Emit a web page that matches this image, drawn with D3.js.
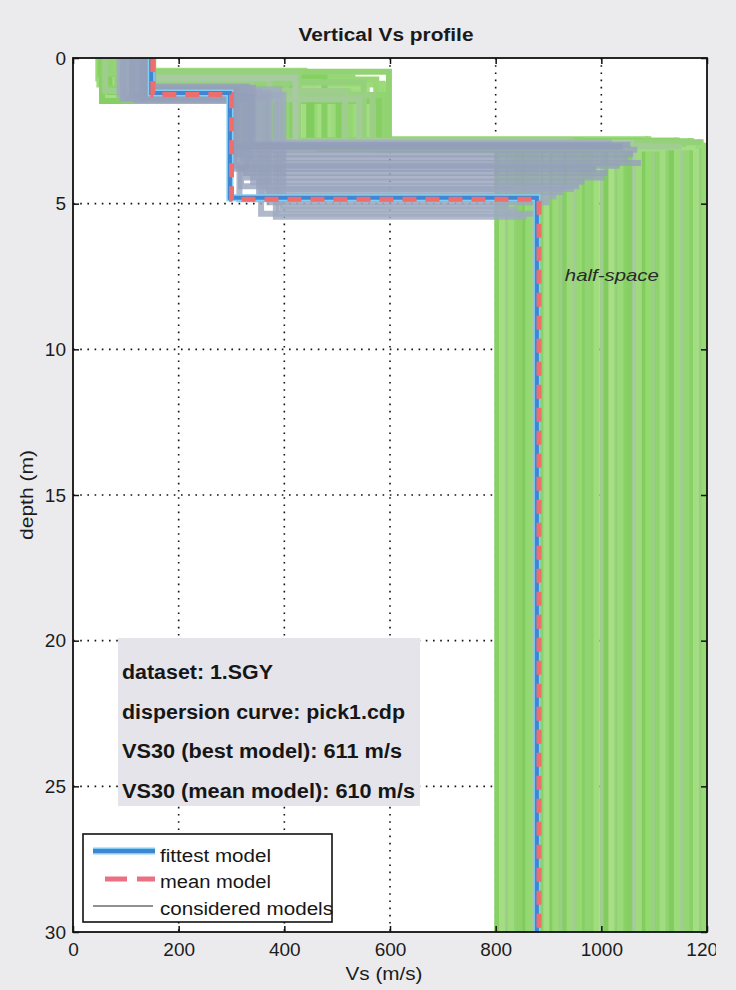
<!DOCTYPE html>
<html>
<head>
<meta charset="utf-8">
<script src="https://cdn.jsdelivr.net/npm/d3@7/dist/d3.min.js"></script>
<style>
  html, body { margin: 0; padding: 0; background: #ebebee; }
  svg { display: block; font-family: "Liberation Sans", Arial, Helvetica, sans-serif; }
</style>
</head>
<body>
<svg id="chart" width="736" height="990"></svg>
<script>
// ---- data ----
const depthTicks = [0, 5, 10, 15, 20, 25, 30];
const vsTicks = [0, 200, 400, 600, 800, 1000, 1200];

// best-fitting and mean 3-layer models: Vs of each layer, depth of each interface
const fittestVs = [148, 297, 878];
const fittestInterfaces = [1.2, 4.8];
const meanVs = [151, 300, 882];
const meanInterfaces = [1.25, 4.85];

// considered models (layer 1, layer 2, half-space), interface depths and misfit
const modelVs1 = [52, 118, 87, 140, 64, 101, 133, 75, 149, 92,
  58, 124, 110, 81, 146, 69, 137, 97, 48, 128,
  114, 85, 143, 61, 106, 131, 72, 152, 95, 55,
  121, 88, 139, 67, 103, 126, 78, 147, 99, 50,
  116, 84, 135, 63, 109, 142,
  142, 120, 150, 98, 133, 110, 146, 125, 88, 138, 104,
  151, 116, 129, 94, 136, 112, 148, 121, 102, 131, 144];
const modelZ1 = [0.55, 1.10, 0.82, 1.38, 0.47, 0.95, 1.22, 0.66, 1.45, 0.74,
  1.05, 0.58, 1.31, 0.88, 0.51, 1.17, 0.99, 1.42, 0.70, 0.62,
  1.27, 0.93, 0.44, 1.13, 0.79, 1.35, 0.53, 1.02, 0.85, 1.48,
  0.68, 1.20, 0.96, 0.49, 1.29, 0.76, 1.08, 0.60, 1.40, 0.91,
  0.72, 1.15, 0.57, 1.33, 0.83, 1.24,
  1.22, 1.35, 1.05, 1.42, 1.15, 1.30, 0.98, 1.45, 1.26, 1.10, 1.38,
  1.18, 1.33, 1.02, 1.40, 1.12, 1.28, 1.08, 1.44, 1.20, 1.36, 1.25];
const modelVs2 = [412, 556, 338, 487, 598, 365, 451, 529, 307, 574,
  396, 468, 342, 585, 427, 503, 359, 542, 318, 476,
  590, 381, 438, 515, 330, 562, 404, 493, 350, 579,
  421, 536, 312, 459, 567, 389, 509, 326, 447, 594,
  372, 521, 335, 482, 550, 399,
  302, 318, 335, 356, 310, 372, 329, 345, 398, 306, 364,
  322, 384, 341, 314, 352, 327, 390, 305, 368, 338, 315];
const modelZ2 = [2.91, 3.02, 2.85, 3.10, 2.95, 2.97, 2.88, 3.04, 2.93, 3.13,
  2.84, 3.12, 2.98, 2.89, 3.07, 2.86, 3.03, 2.84, 2.94, 2.83,
  3.15, 2.92, 2.91, 3.00, 2.87, 3.05, 2.96, 2.85, 3.08, 3.01,
  2.90, 3.09, 2.86, 2.79, 2.99, 2.88, 3.11, 2.93, 3.00, 2.83,
  3.04, 2.95, 2.86, 3.06, 2.89, 3.01,
  3.05, 4.40, 3.60, 5.35, 3.30, 4.95, 4.10, 2.90, 5.10, 3.80, 4.60,
  3.45, 5.45, 4.25, 3.15, 4.75, 3.95, 5.20, 3.70, 4.50, 2.98, 4.85];
const modelVs3 = [803, 812, 818, 829, 836, 845, 851, 862, 870, 877,
  889, 896, 905, 913, 921, 932, 940, 947, 958, 966,
  974, 983, 991, 1002, 1010, 1019, 1027, 1036, 1045, 1053,
  1062, 1071, 1080, 1089, 1098, 1107, 1116, 1125, 1134, 1143,
  1152, 1161, 1170, 1179, 1188, 1196,
  1040, 958, 1075, 884, 1060, 902, 1006, 1020, 824, 990, 927,
  1050, 858, 968, 1068, 915, 1012, 842, 1035, 948, 1055, 872];
const modelMisfit = [0.081, 0.104, 0.067, 0.112, 0.073, 0.095, 0.088, 0.119, 0.062, 0.099,
  0.077, 0.108, 0.085, 0.115, 0.070, 0.092, 0.101, 0.064, 0.117, 0.083,
  0.097, 0.075, 0.110, 0.066, 0.089, 0.106, 0.072, 0.114, 0.079, 0.093,
  0.061, 0.102, 0.087, 0.118, 0.068, 0.096, 0.109, 0.074, 0.091, 0.113,
  0.065, 0.098, 0.080, 0.107, 0.071, 0.116,
  0.021, 0.034, 0.028, 0.045, 0.025, 0.039, 0.031, 0.048, 0.042, 0.023, 0.036,
  0.027, 0.044, 0.030, 0.033, 0.040, 0.026, 0.046, 0.029, 0.038, 0.024, 0.043];

const infoLines = [
  "dataset: 1.SGY",
  "dispersion curve: pick1.cdp",
  "VS30 (best model): 611 m/s",
  "VS30 (mean model): 610 m/s"
];
const legendLabels = ["fittest model", "mean model", "considered models"];
const titleText = "Vertical Vs profile";
const halfSpaceText = "half-space";
const maxDepth = 30;

// ---- layout ----
const svg = d3.select("#chart");
const W = 736, H = 990;
const plot = { left: 73, right: 707, top: 58, bottom: 932 };

const x = d3.scaleLinear().domain([0, 1200]).range([plot.left, plot.right]);
const y = d3.scaleLinear().domain([0, maxDepth]).range([plot.top, plot.bottom]);

svg.append("rect").attr("width", W).attr("height", H).attr("fill", "#ebebee");
svg.append("rect")
  .attr("x", plot.left).attr("y", plot.top)
  .attr("width", plot.right - plot.left).attr("height", plot.bottom - plot.top)
  .attr("fill", "#ffffff");

const defs = svg.append("defs");
defs.append("clipPath").attr("id", "plotClip")
  .append("rect")
  .attr("x", plot.left).attr("y", plot.top)
  .attr("width", plot.right - plot.left).attr("height", plot.bottom - plot.top);
defs.append("clipPath").attr("id", "figClip")
  .append("rect").attr("x", 0).attr("y", 0).attr("width", 716).attr("height", H);

// dotted grid
const grid = svg.append("g").attr("stroke", "#111").attr("stroke-width", 1.6)
  .attr("stroke-dasharray", "1.6,5.6");
grid.selectAll("line.vx").data(vsTicks.slice(1, -1)).join("line")
  .attr("x1", d => x(d)).attr("x2", d => x(d))
  .attr("y1", plot.top).attr("y2", plot.bottom);
grid.selectAll("line.hy").data(depthTicks.slice(1, -1)).join("line")
  .attr("x1", plot.left).attr("x2", plot.right)
  .attr("y1", d => y(d)).attr("y2", d => y(d));

// step profile of a 3-layer model
function profilePoints(vs, z1, z2) {
  return [[vs[0], 0], [vs[0], z1], [vs[1], z1], [vs[1], z2], [vs[2], z2], [vs[2], maxDepth]];
}
const line = d3.line().x(d => x(d[0])).y(d => y(d[1]));

// low misfit -> blue-grey, high misfit -> shades of green
const misfitColor = d3.scaleLinear()
  .domain([0.02, 0.05, 0.06, 0.075, 0.09, 0.105, 0.12])
  .range(["rgba(146,157,184,0.82)", "rgba(162,173,194,0.82)",
          "rgb(170,201,166)", "rgb(141,212,106)", "rgb(127,203,92)",
          "rgb(168,222,136)", "rgb(146,216,110)"]);

const models = modelVs1.map((v, i) => ({
  vs: [v, modelVs2[i], modelVs3[i]],
  z1: modelZ1[i], z2: modelZ2[i], misfit: modelMisfit[i]
}));

const plotG = svg.append("g").attr("clip-path", "url(#plotClip)");

// half-space part of each considered model (best ones underneath)
plotG.append("g").selectAll("line")
  .data(models.slice().sort((a, b) => a.misfit - b.misfit)).join("line")
  .attr("x1", d => x(d.vs[2])).attr("x2", d => x(d.vs[2]))
  .attr("y1", d => y(d.z2)).attr("y2", y(maxDepth))
  .attr("stroke", d => misfitColor(d.misfit))
  .attr("stroke-width", 6).attr("stroke-linecap", "square");

// layered part of each considered model (best ones on top)
plotG.append("g").selectAll("path")
  .data(models.slice().sort((a, b) => b.misfit - a.misfit)).join("path")
  .attr("d", d => line(profilePoints(d.vs, d.z1, d.z2).slice(0, 5)))
  .attr("fill", "none")
  .attr("stroke", d => misfitColor(d.misfit))
  .attr("stroke-width", 6)
  .attr("stroke-linejoin", "miter");

// fittest model
const fittestPath = line(profilePoints(fittestVs, fittestInterfaces[0], fittestInterfaces[1]));
plotG.append("path").attr("d", fittestPath).attr("fill", "none")
  .attr("stroke", "#7fd0f2").attr("stroke-width", 7);
plotG.append("path").attr("d", fittestPath).attr("fill", "none")
  .attr("stroke", "#3f85d4").attr("stroke-width", 4);

// mean model
plotG.append("path")
  .attr("d", line(profilePoints(meanVs, meanInterfaces[0], meanInterfaces[1])))
  .attr("fill", "none").attr("stroke", "#ee6d6d").attr("stroke-width", 5)
  .attr("stroke-dasharray", "14,9");

// half-space label
svg.append("text")
  .attr("x", x(931)).attr("y", y(7.65))
  .attr("font-size", 17).attr("font-style", "italic").attr("fill", "#2a2a2a")
  .attr("textLength", 94).attr("lengthAdjust", "spacingAndGlyphs")
  .text(halfSpaceText);

// frame and inward ticks
svg.append("rect")
  .attr("x", plot.left).attr("y", plot.top)
  .attr("width", plot.right - plot.left).attr("height", plot.bottom - plot.top)
  .attr("fill", "none").attr("stroke", "#111").attr("stroke-width", 1.8);

const axisFont = g => g.selectAll("text")
  .attr("font-size", 19).attr("fill", "#1c1c1c")
  .attr("font-family", "'Liberation Sans', Arial, sans-serif");

const yAxis = svg.append("g").attr("transform", `translate(${plot.left},0)`)
  .call(d3.axisLeft(y).tickValues(depthTicks).tickFormat(d3.format("d"))
    .tickSizeInner(-6).tickSizeOuter(0).tickPadding(7));
yAxis.select(".domain").remove();
yAxis.selectAll("line").attr("stroke", "#111").attr("stroke-width", 1.5);
yAxis.call(axisFont);

const xAxis = svg.append("g").attr("clip-path", "url(#figClip)")
  .append("g").attr("transform", `translate(0,${plot.bottom})`)
  .call(d3.axisBottom(x).tickValues(vsTicks).tickFormat(d3.format("d"))
    .tickSizeInner(-6).tickSizeOuter(0).tickPadding(11));
xAxis.select(".domain").remove();
xAxis.selectAll("line").attr("stroke", "#111").attr("stroke-width", 1.5);
xAxis.call(axisFont);

const topAxis = svg.append("g").attr("transform", `translate(0,${plot.top})`)
  .call(d3.axisTop(x).tickValues(vsTicks).tickSizeInner(-6).tickSizeOuter(0).tickFormat(""));
topAxis.select(".domain").remove();
topAxis.selectAll("line").attr("stroke", "#111").attr("stroke-width", 1.5);

const rightAxis = svg.append("g").attr("transform", `translate(${plot.right},0)`)
  .call(d3.axisRight(y).tickValues(depthTicks).tickSizeInner(-6).tickSizeOuter(0).tickFormat(""));
rightAxis.select(".domain").remove();
rightAxis.selectAll("line").attr("stroke", "#111").attr("stroke-width", 1.5);

// axis titles
svg.append("text")
  .attr("x", 384).attr("y", 980).attr("text-anchor", "middle")
  .attr("font-size", 19).attr("fill", "#1c1c1c")
  .attr("textLength", 77).attr("lengthAdjust", "spacingAndGlyphs")
  .text("Vs (m/s)");
svg.append("text")
  .attr("transform", `translate(33,${(plot.top + plot.bottom) / 2}) rotate(-90)`)
  .attr("text-anchor", "middle")
  .attr("font-size", 19).attr("fill", "#1c1c1c")
  .attr("textLength", 90).attr("lengthAdjust", "spacingAndGlyphs")
  .text("depth (m)");

// title
svg.append("text")
  .attr("x", 386).attr("y", 41).attr("text-anchor", "middle")
  .attr("font-size", 18).attr("font-weight", "bold").attr("fill", "#1a1a1a")
  .attr("textLength", 175).attr("lengthAdjust", "spacingAndGlyphs")
  .text(titleText);

// info box
const infoWidths = [151, 283, 280, 293];
svg.append("rect")
  .attr("x", 118).attr("y", 638).attr("width", 302).attr("height", 168)
  .attr("fill", "#e4e4ea");
svg.append("g").selectAll("text").data(infoLines).join("text")
  .attr("x", 122).attr("y", (d, i) => 679 + i * 39.5)
  .attr("font-size", 20).attr("font-weight", "bold").attr("fill", "#161616")
  .attr("textLength", (d, i) => infoWidths[i]).attr("lengthAdjust", "spacingAndGlyphs")
  .text(d => d);

// legend
const lg = svg.append("g");
lg.append("rect")
  .attr("x", 83).attr("y", 834).attr("width", 249).attr("height", 88)
  .attr("fill", "#ffffff").attr("stroke", "#111").attr("stroke-width", 1.6);
lg.append("line").attr("x1", 93).attr("x2", 155).attr("y1", 851).attr("y2", 851)
  .attr("stroke", "#7fd0f2").attr("stroke-width", 7);
lg.append("line").attr("x1", 93).attr("x2", 155).attr("y1", 851).attr("y2", 851)
  .attr("stroke", "#3f85d4").attr("stroke-width", 4);
lg.append("line").attr("x1", 105).attr("x2", 155).attr("y1", 879).attr("y2", 879)
  .attr("stroke", "#ec7083").attr("stroke-width", 5).attr("stroke-dasharray", "22,10");
lg.append("line").attr("x1", 93).attr("x2", 153).attr("y1", 906).attr("y2", 906)
  .attr("stroke", "#222").attr("stroke-width", 1.2);
const legendWidths = [111, 111, 173];
lg.selectAll("text").data(legendLabels).join("text")
  .attr("x", 160).attr("y", (d, i) => [862, 888, 915][i])
  .attr("font-size", 18).attr("fill", "#161616")
  .attr("textLength", (d, i) => legendWidths[i]).attr("lengthAdjust", "spacingAndGlyphs")
  .text(d => d);
</script>
</body>
</html>
